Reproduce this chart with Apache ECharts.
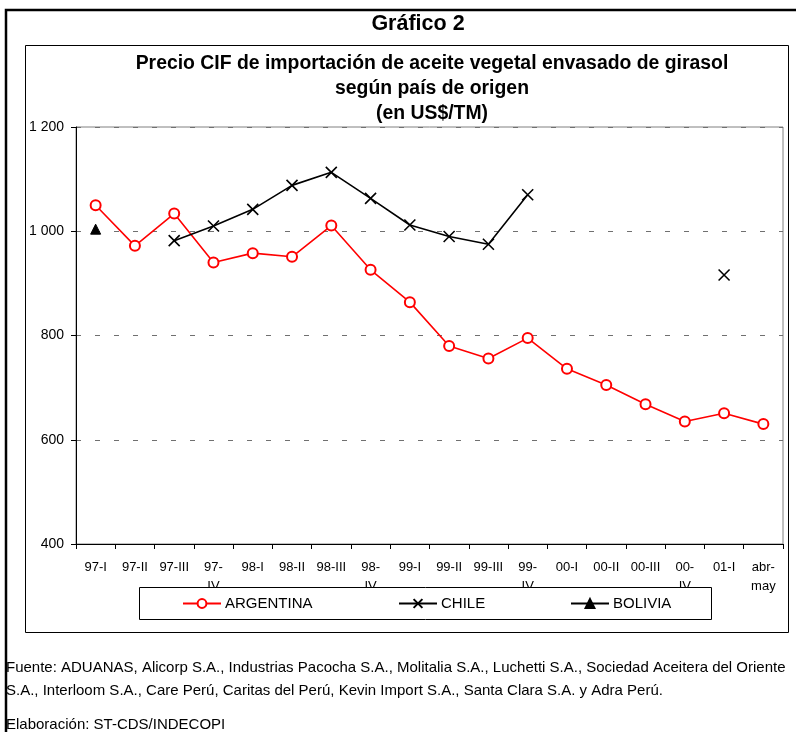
<!DOCTYPE html>
<html>
<head>
<meta charset="utf-8">
<script src="https://cdn.jsdelivr.net/npm/echarts@6/dist/echarts.min.js"></script>
<style>
html,body{margin:0;padding:0;background:#fff;}
#chart{width:796px;height:732px;}
</style>
</head>
<body>
<div id="chart"></div>
<script>
const categories = ['97-I','97-II','97-III','97-\nIV','98-I','98-II','98-III','98-\nIV','99-I','99-II','99-III','99-\nIV','00-I','00-II','00-III','00-\nIV','01-I','abr-\nmay'];
const argentina = [1050, 972, 1034, 940, 958, 951, 1011, 926, 864, 780, 756, 795, 736, 705, 668, 635, 651, 630];
const chile = [null, null, 982, 1010, 1042, 1088, 1113, 1063, 1012, 990, 975, 1070, null, null, null, null, 916, null];
const bolivia = [1004, null, null, null, null, null, null, null, null, null, null, null, null, null, null, null, null, null];
const yTicks = {min: 400, max: 1200, interval: 200};

const FONT = '"Liberation Sans", Arial, sans-serif';
const chart = echarts.init(document.getElementById('chart'));
const crossPath = 'path://M0,0L10,10M10,0L0,10';

const option = {
  animation: false,
  backgroundColor: '#fff',
  textStyle: {fontFamily: FONT, color: '#000'},
  title: [
    {text: 'Gráfico 2', left: 413, top: 8, textAlign: 'center',
     textStyle: {fontFamily: FONT, fontSize: 21.5, fontWeight: 'bold', color: '#000'}},
    {text: 'Precio CIF de importación de aceite vegetal envasado de girasol\nsegún país de origen\n(en US$/TM)',
     left: 427, top: 46, textAlign: 'center',
     textStyle: {fontFamily: FONT, fontSize: 19.4, fontWeight: 'bold', color: '#000', lineHeight: 25}},
    {text: 'Fuente: ADUANAS, Alicorp S.A., Industrias Pacocha S.A., Molitalia S.A., Luchetti S.A., Sociedad Aceitera del Oriente\nS.A., Interloom S.A., Care Perú, Caritas del Perú, Kevin Import S.A., Santa Clara S.A. y Adra Perú.',
     left: 6, top: 656, padding: 0,
     textStyle: {fontFamily: FONT, fontSize: 15, fontWeight: 'normal', color: '#000', lineHeight: 23}},
    {text: 'Elaboración: ST-CDS/INDECOPI',
     left: 6, top: 717, padding: 0,
     textStyle: {fontFamily: FONT, fontSize: 15, fontWeight: 'normal', color: '#000'}}
  ],
  graphic: [
    {type: 'rect', z: 1, shape: {x: 6, y: 10, width: 800, height: 740},
     style: {fill: 'none', stroke: '#000', lineWidth: 2.5}},
    {type: 'rect', z: 1, shape: {x: 25.5, y: 45.5, width: 763, height: 587},
     style: {fill: 'none', stroke: '#000', lineWidth: 1}},
    {type: 'rect', z: 50, shape: {x: 139.5, y: 587.5, width: 572, height: 32},
     style: {fill: '#fff', stroke: '#000', lineWidth: 1}}
  ],
  legend: [
    {data: ['ARGENTINA'], left: 182, top: 596, padding: 0, z: 60, itemWidth: 38, itemHeight: 11, itemGap: 0,
     textStyle: {fontFamily: FONT, fontSize: 15, color: '#000', padding: [0,0,0,-1]}},
    {data: ['CHILE'], left: 398, top: 596, padding: 0, z: 60, itemWidth: 38, itemHeight: 11, itemGap: 0,
     textStyle: {fontFamily: FONT, fontSize: 15, color: '#000', padding: [0,0,0,-1]}},
    {data: ['BOLIVIA'], left: 570, top: 596, padding: 0, z: 60, itemWidth: 38, itemHeight: 11, itemGap: 0,
     textStyle: {fontFamily: FONT, fontSize: 15, color: '#000', padding: [0,0,0,-1]}}
  ],
  grid: {left: 76, right: 13, top: 127, bottom: 188, show: true, borderColor: '#808080', borderWidth: 1, containLabel: false},
  xAxis: {
    type: 'category', data: categories, boundaryGap: true,
    axisLine: {lineStyle: {color: '#000', width: 1}},
    axisTick: {show: true, inside: false, length: 5, interval: 0, lineStyle: {color: '#000'}},
    axisLabel: {interval: 0, margin: 14, fontFamily: FONT, fontSize: 13, color: '#000', lineHeight: 19},
    splitLine: {show: false}
  },
  yAxis: {
    type: 'value', min: yTicks.min, max: yTicks.max, interval: yTicks.interval,
    axisLine: {show: true, lineStyle: {color: '#000', width: 1}},
    axisTick: {show: true, inside: false, length: 5, lineStyle: {color: '#000'}},
    axisLabel: {margin: 12, fontFamily: FONT, fontSize: 14, color: '#000',
      formatter: v => v >= 1000 ? Math.floor(v/1000) + ' ' + String(v % 1000).padStart(3, '0') : String(v)},
    splitLine: {show: true, lineStyle: {color: '#707070', type: [5, 14], width: 1}}
  },
  series: [
    {name: 'ARGENTINA', type: 'line', data: argentina, connectNulls: false,
     symbol: 'emptyCircle', symbolSize: 10, showAllSymbol: true,
     lineStyle: {color: '#ff0000', width: 1.6},
     itemStyle: {color: '#ff0000', borderColor: '#ff0000', borderWidth: 1.6}},
    {name: 'CHILE', type: 'line', data: chile, connectNulls: false,
     symbol: crossPath, symbolSize: 11, showAllSymbol: true,
     lineStyle: {color: '#000', width: 1.6},
     itemStyle: {color: '#000', borderColor: '#000', borderWidth: 1.6}},
    {name: 'BOLIVIA', type: 'line', data: bolivia, connectNulls: false,
     symbol: 'triangle', symbolSize: 10, showAllSymbol: true,
     lineStyle: {color: '#000', width: 1.6},
     itemStyle: {color: '#000', borderColor: '#000', borderWidth: 1}}
  ]
};
chart.setOption(option);
</script>
</body>
</html>
